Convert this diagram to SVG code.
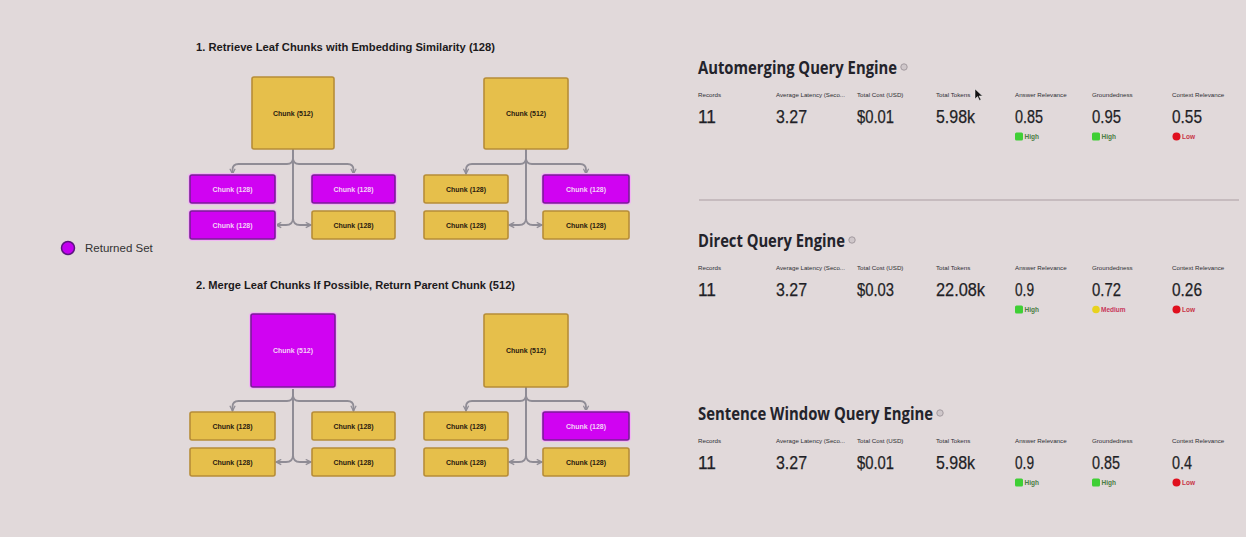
<svg xmlns="http://www.w3.org/2000/svg" width="1246" height="537" viewBox="0 0 1246 537">
<defs>
<style>
.bg{fill:#e1d9da}
.title{font-family:"Liberation Sans",Arial,sans-serif;font-weight:bold;font-size:11.5px;fill:#1c1a1c}
.gold{fill:#e6bf4b;stroke:#b78d38;stroke-width:1.6}
.mag{fill:#d003f2;stroke:#7a1c98;stroke-width:1.6}
.halo{fill:none;stroke:#f1b6f3;stroke-width:4}
.ct{font-family:"Liberation Sans",Arial,sans-serif;font-weight:bold;font-size:7px;text-anchor:middle;fill:#2a2010}
.cm{font-family:"Liberation Sans",Arial,sans-serif;font-weight:bold;font-size:7px;text-anchor:middle;fill:#f4d2f8}
.conn{fill:none;stroke:#8f8c95;stroke-width:1.8}
.legend{font-family:"Liberation Sans",Arial,sans-serif;font-size:11.5px;fill:#333}
.head{font-family:"Open Sans","Liberation Sans",sans-serif;font-weight:700;font-size:17px;fill:#23232b}
.lbl{font-family:"Liberation Sans",Arial,sans-serif;font-size:6.2px;fill:#2e2e34}
.val{font-family:"Liberation Sans",Arial,sans-serif;font-size:18px;fill:#1f1f26;stroke:#1f1f26;stroke-width:0.25}
.bt{font-family:"Liberation Sans",Arial,sans-serif;font-size:6.5px;font-weight:bold}
.info{fill:#cfc7ca;stroke:#a39ba0;stroke-width:1}
</style>
<marker id="arr" viewBox="0 0 8 8" refX="7" refY="4" markerWidth="7" markerHeight="7" markerUnits="userSpaceOnUse" orient="auto">
<path d="M1,1 L7,4 L1,7" fill="none" stroke="#8f8c95" stroke-width="1.4"/>
</marker>
</defs>
<rect class="bg" x="0" y="0" width="1246" height="537"/>

<text class="title" x="196" y="51" textLength="299" lengthAdjust="spacingAndGlyphs">1. Retrieve Leaf Chunks with Embedding Similarity (128)</text>
<text class="title" x="196" y="289" textLength="319" lengthAdjust="spacingAndGlyphs">2. Merge Leaf Chunks If Possible, Return Parent Chunk (512)</text>

<g id="connectors">
<path class="conn" marker-end="url(#arr)" d="M293,149 V158 Q293,164 287,164 H238.5 Q232.5,164 232.5,170 V174"/>
<path class="conn" marker-end="url(#arr)" d="M293,149 V158 Q293,164 299,164 H347.5 Q353.5,164 353.5,170 V174"/>
<path class="conn" marker-end="url(#arr)" d="M293,149 V218 Q293,225 286,225 H276"/>
<path class="conn" marker-end="url(#arr)" d="M293,149 V218 Q293,225 300,225 H311"/>
<path class="conn" marker-end="url(#arr)" d="M526,149 V158 Q526,164 520,164 H472 Q466,164 466,170 V174"/>
<path class="conn" marker-end="url(#arr)" d="M526,149 V158 Q526,164 532,164 H580 Q586,164 586,170 V174"/>
<path class="conn" marker-end="url(#arr)" d="M526,149 V218 Q526,225 519,225 H509"/>
<path class="conn" marker-end="url(#arr)" d="M526,149 V218 Q526,225 533,225 H542"/>
<path class="conn" marker-end="url(#arr)" d="M293,387 V395 Q293,401 287,401 H238.5 Q232.5,401 232.5,407 V411"/>
<path class="conn" marker-end="url(#arr)" d="M293,387 V395 Q293,401 299,401 H347.5 Q353.5,401 353.5,407 V411"/>
<path class="conn" marker-end="url(#arr)" d="M293,387 V455 Q293,462 286,462 H276"/>
<path class="conn" marker-end="url(#arr)" d="M293,387 V455 Q293,462 300,462 H311"/>
<path class="conn" marker-end="url(#arr)" d="M526,387 V395 Q526,401 520,401 H472 Q466,401 466,407 V411"/>
<path class="conn" marker-end="url(#arr)" d="M526,387 V395 Q526,401 532,401 H580 Q586,401 586,407 V411"/>
<path class="conn" marker-end="url(#arr)" d="M526,387 V455 Q526,462 519,462 H509"/>
<path class="conn" marker-end="url(#arr)" d="M526,387 V455 Q526,462 533,462 H542"/>
</g>

<!-- Tree 1 top-left -->
<g id="t1-parent"><rect class="gold" x="252" y="77" width="82" height="72" rx="2"/><text class="ct" x="293" y="115.5">Chunk (512)</text></g>
<g id="t1-l1"><rect class="halo" x="190" y="175" width="85" height="28" rx="2"/><rect class="mag" x="190" y="175" width="85" height="28" rx="2"/><text class="cm" x="232.5" y="191.5">Chunk (128)</text></g>
<g id="t1-l2"><rect class="halo" x="190" y="211" width="85" height="28" rx="2"/><rect class="mag" x="190" y="211" width="85" height="28" rx="2"/><text class="cm" x="232.5" y="227.5">Chunk (128)</text></g>
<g id="t1-r1"><rect class="halo" x="312" y="175" width="83" height="28" rx="2"/><rect class="mag" x="312" y="175" width="83" height="28" rx="2"/><text class="cm" x="353.5" y="191.5">Chunk (128)</text></g>
<g id="t1-r2"><rect class="gold" x="312" y="211" width="83" height="28" rx="2"/><text class="ct" x="353.5" y="227.5">Chunk (128)</text></g>

<!-- Tree 2 top-right -->
<g id="t2-parent"><rect class="gold" x="484" y="78" width="84" height="71" rx="2"/><text class="ct" x="526" y="115.5">Chunk (512)</text></g>
<g id="t2-l1"><rect class="gold" x="424" y="175" width="84" height="28" rx="2"/><text class="ct" x="466" y="191.5">Chunk (128)</text></g>
<g id="t2-l2"><rect class="gold" x="424" y="211" width="84" height="28" rx="2"/><text class="ct" x="466" y="227.5">Chunk (128)</text></g>
<g id="t2-r1"><rect class="halo" x="543" y="175" width="86" height="28" rx="2"/><rect class="mag" x="543" y="175" width="86" height="28" rx="2"/><text class="cm" x="586" y="191.5">Chunk (128)</text></g>
<g id="t2-r2"><rect class="gold" x="543" y="211" width="86" height="28" rx="2"/><text class="ct" x="586" y="227.5">Chunk (128)</text></g>

<!-- Tree 3 bottom-left -->
<g id="b1-parent"><rect class="halo" x="251" y="314" width="84" height="73" rx="2"/><rect class="mag" x="251" y="314" width="84" height="73" rx="2"/><text class="cm" x="293" y="352.5">Chunk (512)</text></g>
<g id="b1-l1"><rect class="gold" x="190" y="412" width="85" height="28" rx="2"/><text class="ct" x="232.5" y="428.5">Chunk (128)</text></g>
<g id="b1-l2"><rect class="gold" x="190" y="448" width="85" height="28" rx="2"/><text class="ct" x="232.5" y="464.5">Chunk (128)</text></g>
<g id="b1-r1"><rect class="gold" x="312" y="412" width="83" height="28" rx="2"/><text class="ct" x="353.5" y="428.5">Chunk (128)</text></g>
<g id="b1-r2"><rect class="gold" x="312" y="448" width="83" height="28" rx="2"/><text class="ct" x="353.5" y="464.5">Chunk (128)</text></g>

<!-- Tree 4 bottom-right -->
<g id="b2-parent"><rect class="gold" x="484" y="314" width="84" height="73" rx="2"/><text class="ct" x="526" y="352.5">Chunk (512)</text></g>
<g id="b2-l1"><rect class="gold" x="424" y="412" width="84" height="28" rx="2"/><text class="ct" x="466" y="428.5">Chunk (128)</text></g>
<g id="b2-l2"><rect class="gold" x="424" y="448" width="84" height="28" rx="2"/><text class="ct" x="466" y="464.5">Chunk (128)</text></g>
<g id="b2-r1"><rect class="halo" x="543" y="412" width="86" height="28" rx="2"/><rect class="mag" x="543" y="412" width="86" height="28" rx="2"/><text class="cm" x="586" y="428.5">Chunk (128)</text></g>
<g id="b2-r2"><rect class="gold" x="543" y="448" width="86" height="28" rx="2"/><text class="ct" x="586" y="464.5">Chunk (128)</text></g>

<!-- Legend -->
<g id="legend">
<circle cx="68" cy="248" r="6.5" fill="#c300f0" stroke="#5c1480" stroke-width="1.5"/>
<text class="legend" x="85" y="252">Returned Set</text>
</g>

<!-- Right panel -->
<line x1="699" y1="200" x2="1239" y2="200" stroke="#bcb1b5" stroke-width="1.5"/>

<g id="automerging">
<text class="head" x="698" y="73.5" textLength="199" lengthAdjust="spacingAndGlyphs">Automerging Query Engine</text>
<circle class="info" cx="904" cy="67" r="3.2"/>
<text class="lbl" x="698" y="97">Records</text>
<text class="lbl" x="776" y="97" textLength="69" lengthAdjust="spacingAndGlyphs">Average Latency (Seco...</text>
<text class="lbl" x="857" y="97">Total Cost (USD)</text>
<text class="lbl" x="936" y="97">Total Tokens</text>
<text class="lbl" x="1015" y="97">Answer Relevance</text>
<text class="lbl" x="1092" y="97">Groundedness</text>
<text class="lbl" x="1172" y="97">Context Relevance</text>
<text class="val" x="698" y="123" textLength="18" lengthAdjust="spacingAndGlyphs">11</text>
<text class="val" x="776" y="123" textLength="31" lengthAdjust="spacingAndGlyphs">3.27</text>
<text class="val" x="857" y="123" textLength="37" lengthAdjust="spacingAndGlyphs">$0.01</text>
<text class="val" x="936" y="123" textLength="39" lengthAdjust="spacingAndGlyphs">5.98k</text>
<text class="val" x="1015" y="123" textLength="28" lengthAdjust="spacingAndGlyphs">0.85</text>
<text class="val" x="1092" y="123" textLength="29" lengthAdjust="spacingAndGlyphs">0.95</text>
<text class="val" x="1172" y="123" textLength="30" lengthAdjust="spacingAndGlyphs">0.55</text>
<rect x="1015" y="132.5" width="8" height="8" rx="1.5" fill="#3fcf35"/><text class="bt" x="1024.5" y="139" fill="#4b7d43">High</text>
<rect x="1092" y="132.5" width="8" height="8" rx="1.5" fill="#3fcf35"/><text class="bt" x="1101.5" y="139" fill="#4b7d43">High</text>
<circle cx="1176.5" cy="136.5" r="4" fill="#e0101e"/><text class="bt" x="1182" y="139" fill="#c83447">Low</text>
<path d="M975,89 L975,99 L977.5,96.5 L979.5,100.5 L981,99.8 L979,96 L982.5,96 Z" fill="#111" stroke="#eee" stroke-width="0.5"/>
</g>

<g id="direct" transform="translate(0,173)">
<text class="head" x="698" y="73.5" textLength="147" lengthAdjust="spacingAndGlyphs">Direct Query Engine</text>
<circle class="info" cx="852" cy="67" r="3.2"/>
<text class="lbl" x="698" y="97">Records</text>
<text class="lbl" x="776" y="97" textLength="69" lengthAdjust="spacingAndGlyphs">Average Latency (Seco...</text>
<text class="lbl" x="857" y="97">Total Cost (USD)</text>
<text class="lbl" x="936" y="97">Total Tokens</text>
<text class="lbl" x="1015" y="97">Answer Relevance</text>
<text class="lbl" x="1092" y="97">Groundedness</text>
<text class="lbl" x="1172" y="97">Context Relevance</text>
<text class="val" x="698" y="123" textLength="18" lengthAdjust="spacingAndGlyphs">11</text>
<text class="val" x="776" y="123" textLength="31" lengthAdjust="spacingAndGlyphs">3.27</text>
<text class="val" x="857" y="123" textLength="37" lengthAdjust="spacingAndGlyphs">$0.03</text>
<text class="val" x="936" y="123" textLength="49" lengthAdjust="spacingAndGlyphs">22.08k</text>
<text class="val" x="1015" y="123" textLength="19" lengthAdjust="spacingAndGlyphs">0.9</text>
<text class="val" x="1092" y="123" textLength="29" lengthAdjust="spacingAndGlyphs">0.72</text>
<text class="val" x="1172" y="123" textLength="30" lengthAdjust="spacingAndGlyphs">0.26</text>
<rect x="1015" y="132.5" width="8" height="8" rx="1.5" fill="#3fcf35"/><text class="bt" x="1024.5" y="139" fill="#4b7d43">High</text>
<circle cx="1096" cy="136.5" r="3.8" fill="#e8d21e"/><text class="bt" x="1101" y="139" fill="#c8365a">Medium</text>
<circle cx="1176.5" cy="136.5" r="4" fill="#e0101e"/><text class="bt" x="1182" y="139" fill="#c83447">Low</text>
</g>

<g id="sentence" transform="translate(0,346)">
<text class="head" x="698" y="73.5" textLength="235" lengthAdjust="spacingAndGlyphs">Sentence Window Query Engine</text>
<circle class="info" cx="940" cy="67" r="3.2"/>
<text class="lbl" x="698" y="97">Records</text>
<text class="lbl" x="776" y="97" textLength="69" lengthAdjust="spacingAndGlyphs">Average Latency (Seco...</text>
<text class="lbl" x="857" y="97">Total Cost (USD)</text>
<text class="lbl" x="936" y="97">Total Tokens</text>
<text class="lbl" x="1015" y="97">Answer Relevance</text>
<text class="lbl" x="1092" y="97">Groundedness</text>
<text class="lbl" x="1172" y="97">Context Relevance</text>
<text class="val" x="698" y="123" textLength="18" lengthAdjust="spacingAndGlyphs">11</text>
<text class="val" x="776" y="123" textLength="31" lengthAdjust="spacingAndGlyphs">3.27</text>
<text class="val" x="857" y="123" textLength="37" lengthAdjust="spacingAndGlyphs">$0.01</text>
<text class="val" x="936" y="123" textLength="39" lengthAdjust="spacingAndGlyphs">5.98k</text>
<text class="val" x="1015" y="123" textLength="19" lengthAdjust="spacingAndGlyphs">0.9</text>
<text class="val" x="1092" y="123" textLength="28" lengthAdjust="spacingAndGlyphs">0.85</text>
<text class="val" x="1172" y="123" textLength="20" lengthAdjust="spacingAndGlyphs">0.4</text>
<rect x="1015" y="132.5" width="8" height="8" rx="1.5" fill="#3fcf35"/><text class="bt" x="1024.5" y="139" fill="#4b7d43">High</text>
<rect x="1092" y="132.5" width="8" height="8" rx="1.5" fill="#3fcf35"/><text class="bt" x="1101.5" y="139" fill="#4b7d43">High</text>
<circle cx="1176.5" cy="136.5" r="4" fill="#e0101e"/><text class="bt" x="1182" y="139" fill="#c83447">Low</text>
</g>
</svg>
